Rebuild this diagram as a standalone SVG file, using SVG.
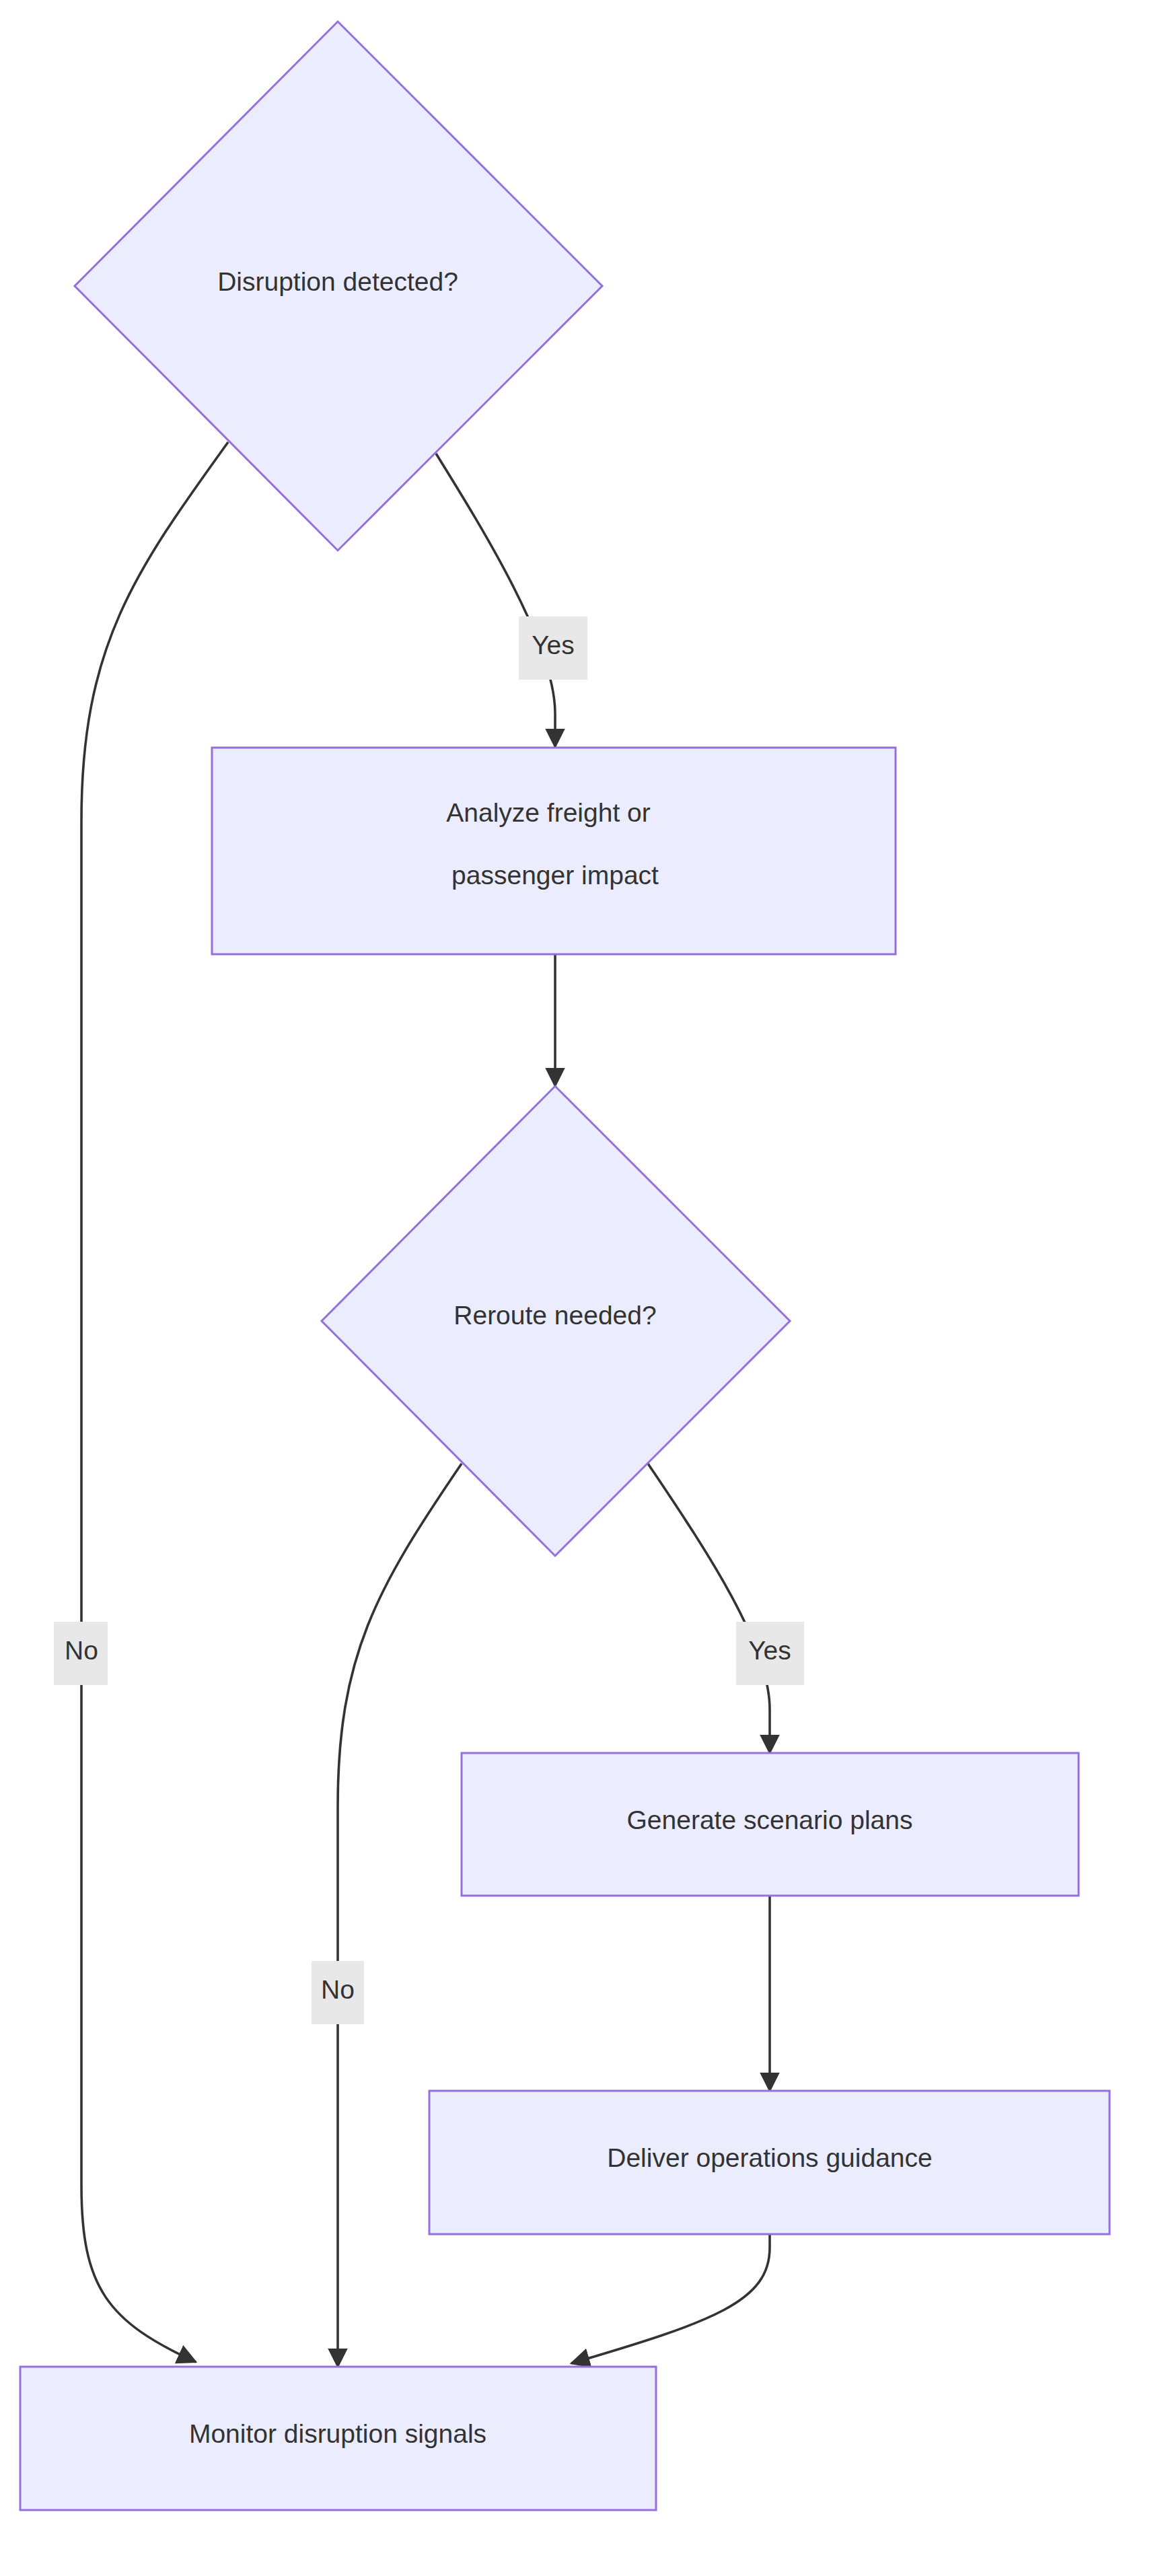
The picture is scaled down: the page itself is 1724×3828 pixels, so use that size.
<svg xmlns="http://www.w3.org/2000/svg" width="1724" height="3828" viewBox="0 0 1724 3828">
<style>
.node{fill:#ECECFF;stroke:#9370DB;stroke-width:3}
.lbl{font-family:"Liberation Sans",Arial,sans-serif;font-size:39px;fill:#333;text-anchor:middle;dominant-baseline:central}
.edge{fill:none;stroke:#333;stroke-width:3.6}
.ebg{fill:#E8E8E8}
</style>
<defs>
<marker id="arr" viewBox="0 0 10 10" refX="9" refY="5" markerWidth="7" markerHeight="7" markerUnits="userSpaceOnUse" orient="auto" style="overflow:visible">
<path d="M0,0 L10,5 L0,10 z" fill="#333" transform="scale(3.4) translate(-7,-0)"/>
</marker>
<marker id="ah" viewBox="0 0 12 12" refX="11" refY="6" markerWidth="30" markerHeight="30" markerUnits="userSpaceOnUse" orient="auto">
<path d="M0,0 L12,6 L0,12 z" fill="#333"/>
</marker>
</defs>
<rect width="1724" height="3828" fill="#fff"/>
<g id="edges">
<path class="edge" d="M648,674 C720,790 825,960 825,1060 L825,1110" marker-end="url(#ah)"/>
<path class="edge" d="M339,657 C200,850 121,960 121,1220 L121,3247 C121,3400 160,3450 291,3510" marker-end="url(#ah)"/>
<path class="edge" d="M825,1418 L825,1614" marker-end="url(#ah)"/>
<path class="edge" d="M963,2175 C1040,2290 1144,2440 1144,2540 L1144,2605" marker-end="url(#ah)"/>
<path class="edge" d="M686,2175 C560,2360 502,2460 502,2685 L502,3517" marker-end="url(#ah)"/>
<path class="edge" d="M1144,2817 L1144,3107" marker-end="url(#ah)"/>
<path class="edge" d="M1144,3320 L1144,3340 C1144,3420 1060,3450 849,3512" marker-end="url(#ah)"/>
</g>
<g id="edge-labels">
<rect class="ebg" x="771" y="916" width="102" height="94"/><text class="lbl" x="822" y="958">Yes</text>
<rect class="ebg" x="80" y="2410" width="80" height="94"/><text class="lbl" x="121" y="2452">No</text>
<rect class="ebg" x="1094" y="2410" width="101" height="94"/><text class="lbl" x="1144" y="2452">Yes</text>
<rect class="ebg" x="463" y="2914" width="78" height="94"/><text class="lbl" x="502" y="2956">No</text>
</g>
<g id="n-disruption"><polygon class="node" points="502,32 895,425 502,818 111,425"/><text class="lbl" x="502" y="418">Disruption detected?</text></g>
<g id="n-analyze"><rect class="node" x="315" y="1111" width="1016" height="307"/><text class="lbl" x="815" y="1207">Analyze freight or</text><text class="lbl" x="825" y="1300">passenger impact</text></g>
<g id="n-reroute"><polygon class="node" points="825,1614 1174,1963 825,2312 478,1963"/><text class="lbl" x="825" y="1954">Reroute needed?</text></g>
<g id="n-generate"><rect class="node" x="686" y="2605" width="917" height="212"/><text class="lbl" x="1144" y="2704">Generate scenario plans</text></g>
<g id="n-deliver"><rect class="node" x="638" y="3107" width="1011" height="213"/><text class="lbl" x="1144" y="3206">Deliver operations guidance</text></g>
<g id="n-monitor"><rect class="node" x="30" y="3517" width="945" height="213"/><text class="lbl" x="502" y="3616">Monitor disruption signals</text></g>
</svg>
